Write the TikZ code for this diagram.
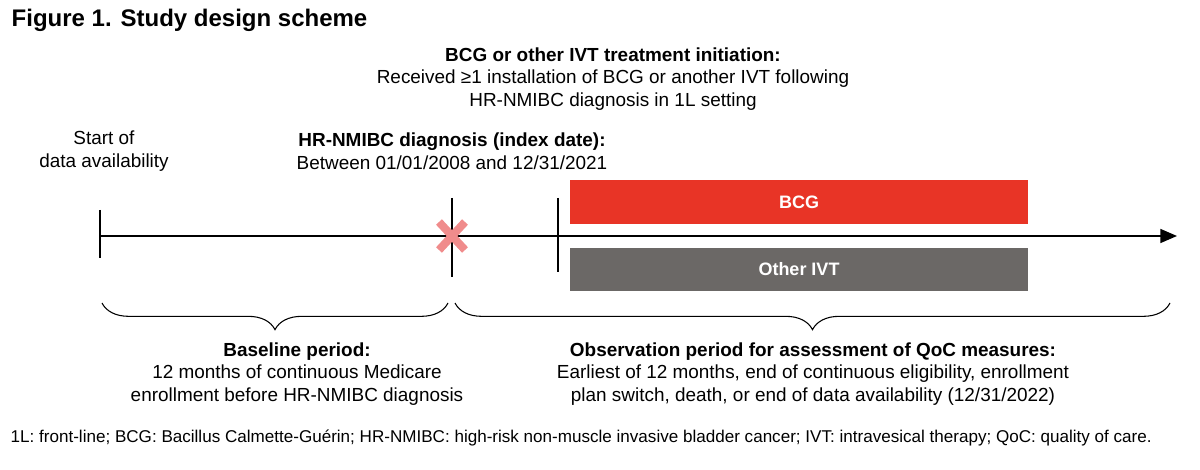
\documentclass[tikz,border=0pt]{standalone}
\usepackage{fontspec}
\setmainfont{Liberation Sans}
\usetikzlibrary{arrows.meta,decorations.pathreplacing,positioning}
\definecolor{bcgred}{RGB}{232,52,38}
\definecolor{ivtgray}{RGB}{107,104,102}
\definecolor{crosspink}{RGB}{240,140,140}

\begin{document}
\begin{tikzpicture}[
    x=0.75pt, y=-0.75pt,
    label/.style={align=center, font=\fontsize{14.2}{17}\selectfont},
    bar/.style={rectangle, minimum width=343.5pt, minimum height=32.5pt, text=white, font=\fontsize{13.5}{15}\selectfont\bfseries},
    tick/.style={line width=1.1pt},
    period/.style={decorate, decoration={brace, mirror, amplitude=20pt}, line width=0.8pt},
    arrow/.style={-{Triangle[length=12.5pt, width=10.5pt]}, line width=1.1pt}
]
    \useasboundingbox (0,0) rectangle (1200,470);

    % Title
    \node[anchor=west, font=\fontsize{18}{22}\selectfont\bfseries] (title) at (7,20) {Figure 1. Study design scheme};

    % Timeline
    \coordinate (start) at (100,236);
    \coordinate (index) at (452,236);
    \coordinate (init) at (558,236);
    \coordinate (end) at (1177,236);
    \draw[arrow] (start) -- (end);
    \draw[tick] (100,210) -- (100,258);
    \draw[tick] (452,198) -- (452,277);
    \draw[tick] (558,198) -- (558,272);
    \draw[crosspink, line width=6pt] (439,222) -- (465,250) (465,222) -- (439,250);

    % Treatment bars
    \node[bar, fill=bcgred] (bcg) at (799,202) {BCG};
    \node[bar, fill=ivtgray] (ivt) at (799,269.5) {Other IVT};

    % Labels above
    \node[label] (treat) at (613,79) {\textbf{BCG or other IVT treatment initiation:}\\Received ≥1 installation of BCG or another IVT following\\HR-NMIBC diagnosis in 1L setting};
    \node[label] (avail) at (104,151) {Start of\\data availability};
    \node[label] (diag) at (452,151) {\textbf{HR-NMIBC diagnosis (index date):}\\Between 01/01/2008 and 12/31/2021};

    % Periods
    \draw[period] (102,303) -- (448,303);
    \draw[period] (455,303) -- (1170,303);
    \node[label] (baseline) at (297,374) {\textbf{Baseline period:}\\12 months of continuous Medicare\\enrollment before HR-NMIBC diagnosis};
    \node[label] (obs) at (813,374) {\textbf{Observation period for assessment of QoC measures:}\\Earliest of 12 months, end of continuous eligibility, enrollment\\plan switch, death, or end of data availability (12/31/2022)};

    % Footnote
    \node[anchor=west, font=\fontsize{12.8}{14}\selectfont] (note) at (6,438) {1L: front-line; BCG: Bacillus Calmette-Guérin; HR-NMIBC: high-risk non-muscle invasive bladder cancer; IVT: intravesical therapy; QoC: quality of care.};
\end{tikzpicture}
\end{document}
